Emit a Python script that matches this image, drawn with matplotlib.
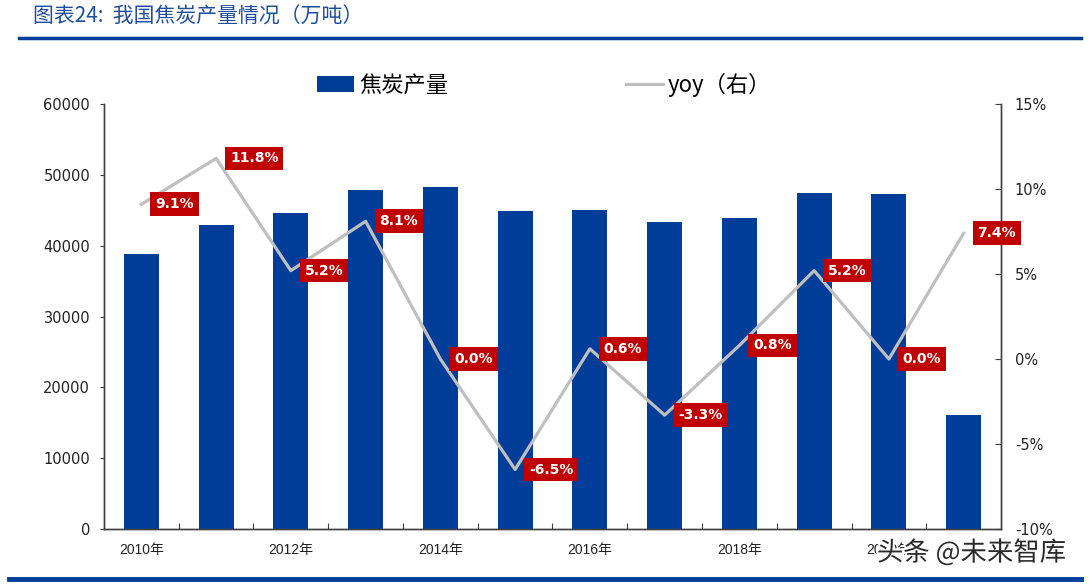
#  Importing libraries
import numpy as np
import matplotlib.pyplot as plt
import matplotlib.patheffects as pe
from matplotlib.patches import Patch
from matplotlib.lines import Line2D

plt.rcParams['font.family'] = ['DejaVu Sans', 'Noto Sans CJK SC']

#  Data
years = ['2010年', '2011年', '2012年', '2013年', '2014年', '2015年',
         '2016年', '2017年', '2018年', '2019年', '2020年', '2021年']
output = [38850, 42900, 44600, 47900, 48250, 44900,
          45050, 43300, 43900, 47400, 47350, 16100]   # 万吨
yoy = [9.1, 11.8, 5.2, 8.1, 0.0, -6.5, 0.6, -3.3, 0.8, 5.2, 0.0, 7.4]  # %

bar_color = '#003D99'
line_color = '#BFBFBF'
label_color = '#C00000'
axis_color = '#404040'
cjk = ['Noto Sans CJK SC', 'DejaVu Sans']

fig = plt.figure(figsize=(10.92, 5.85), dpi=100)
ax = fig.add_axes([0.0952, 0.0957, 0.8215, 0.7265])
ax2 = ax.twinx()

x = np.arange(len(years))
ax.bar(x, output, width=0.47, color=bar_color, zorder=2)
ax2.plot(x, yoy, color=line_color, lw=2.3, zorder=3)

#  Value labels on the yoy line
for i, v in enumerate(yoy):
    ax2.annotate('%.1f%%' % v, (i, v), xytext=(10, 0), textcoords='offset points',
                 ha='left', va='center', color='white', fontsize=10, fontweight='bold',
                 bbox=dict(boxstyle='square,pad=0.35', fc=label_color, ec='none'),
                 zorder=5)

#  Axes
ax.set_xlim(-0.5, len(years) - 0.5)
ax.set_ylim(0, 60000)
ax.set_yticks(np.arange(0, 60001, 10000))
ax2.set_ylim(-10, 15)
ax2.set_yticks(np.arange(-10, 16, 5))
ax2.set_yticklabels(['%d%%' % t for t in np.arange(-10, 16, 5)])

ax.set_xticks(np.arange(0.5, len(years) - 1, 1))
ax.set_xticklabels([])
ax.set_xticks(x[::2], minor=True)
ax.set_xticklabels(years[::2], minor=True, family=['Liberation Sans', 'Noto Sans CJK SC'],
                   fontsize=10)
ax.tick_params(axis='x', which='major', direction='in', length=4, color=axis_color)
ax.tick_params(axis='x', which='minor', length=0, pad=10, labelcolor='#222222')
ax.tick_params(axis='y', direction='out', length=3, color=axis_color, labelsize=10.5,
               labelcolor='#222222', pad=7)
ax2.tick_params(axis='y', direction='in', length=4, color=axis_color, labelsize=10.5,
                labelcolor='#222222', pad=10)

for a in (ax, ax2):
    a.spines['top'].set_visible(False)
    for s in ('left', 'right', 'bottom'):
        a.spines[s].set_color(axis_color)
        a.spines[s].set_linewidth(1)

#  Legend
handles = [Patch(facecolor=bar_color, edgecolor='none'),
           Line2D([], [], color=line_color, lw=2.3)]
fig.legend(handles, ['焦炭产量', 'yoy（右）'], ncol=2, loc='center left',
           bbox_to_anchor=(0.29, 0.855), frameon=False, borderpad=0, borderaxespad=0,
           handlelength=1.7, handleheight=0.7, handletextpad=0.2, columnspacing=8.0,
           prop={'family': cjk, 'size': 16})

#  Title and frame lines
fig.text(0.03, 0.972, '图表24:  我国焦炭产量情况（万吨）', family=cjk, fontsize=15,
         color='#1F4E9F', style='italic', ha='left', va='center')
fig.add_artist(Line2D([0.017, 0.99], [0.935, 0.935], color=bar_color, lw=2.5))
fig.add_artist(Line2D([0.008, 0.99], [0.010, 0.010], color=bar_color, lw=3.5))

#  Watermark
fig.text(0.803, 0.055, '头条 @未来智库', family=cjk, fontsize=19, color='#2a2a2a',
         ha='left', va='center',
         path_effects=[pe.withStroke(linewidth=3, foreground='white')])

plt.savefig('out.png', dpi=100)
